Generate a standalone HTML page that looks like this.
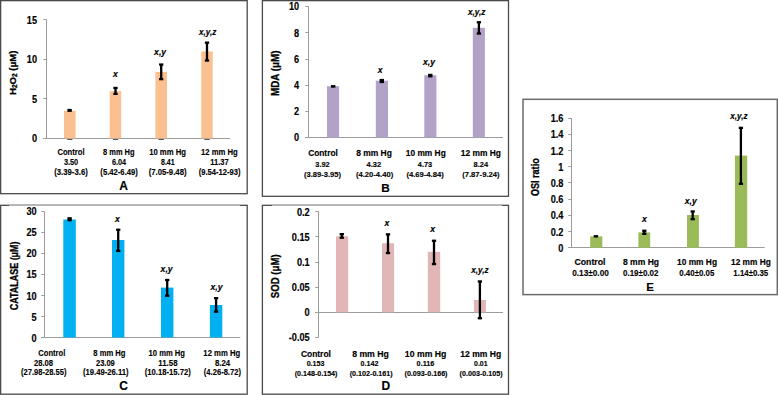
<!DOCTYPE html>
<html><head><meta charset="utf-8"><style>
html,body{margin:0;padding:0;background:#fff;}
body{width:778px;height:395px;overflow:hidden;}
svg{display:block;}
text{font-family:"Liberation Sans", sans-serif;font-weight:bold;stroke:#000;stroke-width:0.16px;}
</style></head><body>
<svg width="778" height="395" viewBox="0 0 778 395">
<rect width="778" height="395" fill="#fff"/>
<rect x="0.65" y="0.65" width="246.55" height="193.05" fill="none" stroke="#4a4a4a" stroke-width="1.3"/>
<rect x="262.40" y="0.65" width="246.10" height="195.65" fill="none" stroke="#4a4a4a" stroke-width="1.3"/>
<rect x="0.65" y="205.30" width="246.55" height="188.90" fill="none" stroke="#4a4a4a" stroke-width="1.3"/>
<rect x="262.40" y="205.30" width="246.10" height="188.90" fill="none" stroke="#4a4a4a" stroke-width="1.3"/>
<line x1="9.00" y1="205.30" x2="240.00" y2="205.30" stroke="#b4b4b4" stroke-width="1.5"/>
<line x1="272.00" y1="205.30" x2="502.00" y2="205.30" stroke="#b4b4b4" stroke-width="1.5"/>
<rect x="523.00" y="99.30" width="254.30" height="195.30" fill="none" stroke="#6a6a6a" stroke-width="1.5"/>
<line x1="46.50" y1="19.80" x2="46.50" y2="138.30" stroke="#9c9c9c" stroke-width="1"/>
<line x1="43.30" y1="138.50" x2="46.50" y2="138.50" stroke="#9c9c9c" stroke-width="1"/>
<text x="37.0" y="142.3" font-size="10.2" text-anchor="end" textLength="5.11" lengthAdjust="spacingAndGlyphs">0</text>
<line x1="43.30" y1="98.50" x2="46.50" y2="98.50" stroke="#9c9c9c" stroke-width="1"/>
<text x="37.0" y="102.8" font-size="10.2" text-anchor="end" textLength="5.11" lengthAdjust="spacingAndGlyphs">5</text>
<line x1="43.30" y1="59.50" x2="46.50" y2="59.50" stroke="#9c9c9c" stroke-width="1"/>
<text x="37.0" y="63.0" font-size="10.2" text-anchor="end" textLength="10.21" lengthAdjust="spacingAndGlyphs">10</text>
<line x1="43.30" y1="19.50" x2="46.50" y2="19.50" stroke="#9c9c9c" stroke-width="1"/>
<text x="37.0" y="23.8" font-size="10.2" text-anchor="end" textLength="10.21" lengthAdjust="spacingAndGlyphs">15</text>
<line x1="43.30" y1="138.50" x2="230.00" y2="138.50" stroke="#9c9c9c" stroke-width="1"/>
<rect x="64.00" y="110.80" width="11.60" height="27.60" fill="#FAC090"/>
<rect x="109.70" y="91.20" width="11.50" height="47.20" fill="#FAC090"/>
<rect x="155.40" y="72.00" width="11.60" height="66.40" fill="#FAC090"/>
<rect x="201.30" y="51.50" width="11.40" height="86.90" fill="#FAC090"/>
<rect x="67.40" y="108.90" width="4.40" height="3.00" fill="#000"/>
<line x1="115.50" y1="87.95" x2="115.50" y2="93.85" stroke="#000" stroke-width="2.3"/>
<line x1="113.35" y1="87.95" x2="117.65" y2="87.95" stroke="#000" stroke-width="2.3"/>
<line x1="113.35" y1="93.85" x2="117.65" y2="93.85" stroke="#000" stroke-width="2.3"/>
<line x1="161.20" y1="64.55" x2="161.20" y2="79.15" stroke="#000" stroke-width="2.3"/>
<line x1="159.05" y1="64.55" x2="163.35" y2="64.55" stroke="#000" stroke-width="2.3"/>
<line x1="159.05" y1="79.15" x2="163.35" y2="79.15" stroke="#000" stroke-width="2.3"/>
<line x1="207.00" y1="42.65" x2="207.00" y2="60.55" stroke="#000" stroke-width="2.3"/>
<line x1="204.85" y1="42.65" x2="209.15" y2="42.65" stroke="#000" stroke-width="2.3"/>
<line x1="204.85" y1="60.55" x2="209.15" y2="60.55" stroke="#000" stroke-width="2.3"/>
<text x="115.5" y="76.6" font-size="8.5" text-anchor="middle" style="font-style:italic;" fill="#000" textLength="4.8" lengthAdjust="spacingAndGlyphs">x</text>
<text x="160.1" y="55.2" font-size="8.5" text-anchor="middle" style="font-style:italic;" fill="#000" textLength="12.0" lengthAdjust="spacingAndGlyphs">x,y</text>
<text x="207.7" y="35.2" font-size="8.5" text-anchor="middle" style="font-style:italic;" fill="#000" textLength="17.4" lengthAdjust="spacingAndGlyphs">x,y,z</text>
<text x="71.0" y="155.0" font-size="8.4" text-anchor="middle" style="stroke-width:0.12px;" fill="#000" textLength="27.1" lengthAdjust="spacingAndGlyphs">Control</text>
<text x="118.8" y="155.0" font-size="8.4" text-anchor="middle" style="stroke-width:0.12px;" fill="#000" textLength="31.6" lengthAdjust="spacingAndGlyphs">8 mm Hg</text>
<text x="167.6" y="155.0" font-size="8.4" text-anchor="middle" style="stroke-width:0.12px;" fill="#000" textLength="36.9" lengthAdjust="spacingAndGlyphs">10 mm Hg</text>
<text x="219.4" y="155.0" font-size="8.4" text-anchor="middle" style="stroke-width:0.12px;" fill="#000" textLength="36.9" lengthAdjust="spacingAndGlyphs">12 mm Hg</text>
<text x="71.0" y="165.2" font-size="8.2" text-anchor="middle" style="stroke-width:0.12px;" fill="#000" textLength="14.2" lengthAdjust="spacingAndGlyphs">3.50</text>
<text x="119.0" y="165.2" font-size="8.2" text-anchor="middle" style="stroke-width:0.12px;" fill="#000" textLength="14.2" lengthAdjust="spacingAndGlyphs">6.04</text>
<text x="167.8" y="165.2" font-size="8.2" text-anchor="middle" style="stroke-width:0.12px;" fill="#000" textLength="13.6" lengthAdjust="spacingAndGlyphs">8.41</text>
<text x="219.4" y="165.2" font-size="8.2" text-anchor="middle" style="stroke-width:0.12px;" fill="#000" textLength="18.5" lengthAdjust="spacingAndGlyphs">11.37</text>
<text x="71.0" y="175.2" font-size="8.2" text-anchor="middle" style="stroke-width:0.12px;" fill="#000" textLength="33.5" lengthAdjust="spacingAndGlyphs">(3.39-3.6)</text>
<text x="119.1" y="175.2" font-size="8.2" text-anchor="middle" style="stroke-width:0.12px;" fill="#000" textLength="37.5" lengthAdjust="spacingAndGlyphs">(5.42-6.49)</text>
<text x="167.6" y="175.2" font-size="8.2" text-anchor="middle" style="stroke-width:0.12px;" fill="#000" textLength="37.9" lengthAdjust="spacingAndGlyphs">(7.05-9.48)</text>
<text x="219.6" y="175.2" font-size="8.2" text-anchor="middle" style="stroke-width:0.12px;" fill="#000" textLength="41.9" lengthAdjust="spacingAndGlyphs">(9.54-12-93)</text>
<text transform="translate(16.3,72.8) rotate(-90)" x="0" y="0" font-size="9.6" style="stroke-width:0.3px" text-anchor="middle" textLength="44.4" lengthAdjust="spacingAndGlyphs">H<tspan font-size="6.5" dy="0.9">2</tspan><tspan dy="-0.9">O</tspan><tspan font-size="6.5" dy="0.9">2</tspan><tspan dy="-0.9"> (μM)</tspan></text>
<text x="123.5" y="189.9" font-size="12" text-anchor="middle" style="" fill="#000">A</text>
<rect x="67.20" y="139.00" width="5.20" height="1.00" fill="#555"/>
<rect x="112.90" y="139.00" width="5.20" height="1.00" fill="#555"/>
<rect x="158.60" y="139.00" width="5.20" height="1.00" fill="#555"/>
<rect x="204.40" y="139.00" width="5.20" height="1.00" fill="#555"/>
<line x1="308.50" y1="6.30" x2="308.50" y2="137.30" stroke="#9c9c9c" stroke-width="1"/>
<line x1="305.30" y1="137.50" x2="308.50" y2="137.50" stroke="#9c9c9c" stroke-width="1"/>
<text x="299.2" y="141.3" font-size="10.2" text-anchor="end" textLength="5.11" lengthAdjust="spacingAndGlyphs">0</text>
<line x1="305.30" y1="111.50" x2="308.50" y2="111.50" stroke="#9c9c9c" stroke-width="1"/>
<text x="299.2" y="115.0" font-size="10.2" text-anchor="end" textLength="5.11" lengthAdjust="spacingAndGlyphs">2</text>
<line x1="305.30" y1="85.50" x2="308.50" y2="85.50" stroke="#9c9c9c" stroke-width="1"/>
<text x="299.2" y="89.2" font-size="10.2" text-anchor="end" textLength="5.11" lengthAdjust="spacingAndGlyphs">4</text>
<line x1="305.30" y1="59.50" x2="308.50" y2="59.50" stroke="#9c9c9c" stroke-width="1"/>
<text x="299.2" y="63.0" font-size="10.2" text-anchor="end" textLength="5.11" lengthAdjust="spacingAndGlyphs">6</text>
<line x1="305.30" y1="32.50" x2="308.50" y2="32.50" stroke="#9c9c9c" stroke-width="1"/>
<text x="299.2" y="36.9" font-size="10.2" text-anchor="end" textLength="5.11" lengthAdjust="spacingAndGlyphs">8</text>
<line x1="305.30" y1="6.50" x2="308.50" y2="6.50" stroke="#9c9c9c" stroke-width="1"/>
<text x="299.2" y="10.3" font-size="10.2" text-anchor="end" textLength="10.21" lengthAdjust="spacingAndGlyphs">10</text>
<line x1="305.30" y1="137.50" x2="503.00" y2="137.50" stroke="#9c9c9c" stroke-width="1"/>
<rect x="327.00" y="86.20" width="12.10" height="51.30" fill="#B3A2C7"/>
<rect x="375.80" y="80.70" width="12.20" height="56.80" fill="#B3A2C7"/>
<rect x="424.30" y="75.20" width="12.10" height="62.30" fill="#B3A2C7"/>
<rect x="472.80" y="27.80" width="12.10" height="109.70" fill="#B3A2C7"/>
<rect x="331.00" y="85.10" width="4.40" height="2.60" fill="#000"/>
<rect x="379.60" y="78.90" width="4.40" height="4.20" fill="#000"/>
<rect x="428.10" y="73.80" width="4.40" height="3.60" fill="#000"/>
<line x1="478.90" y1="22.25" x2="478.90" y2="33.55" stroke="#000" stroke-width="2.3"/>
<line x1="476.75" y1="22.25" x2="481.05" y2="22.25" stroke="#000" stroke-width="2.3"/>
<line x1="476.75" y1="33.55" x2="481.05" y2="33.55" stroke="#000" stroke-width="2.3"/>
<text x="380.2" y="72.6" font-size="8.5" text-anchor="middle" style="font-style:italic;" fill="#000" textLength="4.8" lengthAdjust="spacingAndGlyphs">x</text>
<text x="429.0" y="65.3" font-size="8.5" text-anchor="middle" style="font-style:italic;" fill="#000" textLength="12.0" lengthAdjust="spacingAndGlyphs">x,y</text>
<text x="476.6" y="15.4" font-size="8.5" text-anchor="middle" style="font-style:italic;" fill="#000" textLength="17.4" lengthAdjust="spacingAndGlyphs">x,y,z</text>
<text x="323.0" y="155.7" font-size="8.6" text-anchor="middle" style="" fill="#000" textLength="29.7" lengthAdjust="spacingAndGlyphs">Control</text>
<text x="374.0" y="155.7" font-size="8.6" text-anchor="middle" style="" fill="#000" textLength="35.7" lengthAdjust="spacingAndGlyphs">8 mm Hg</text>
<text x="425.8" y="155.7" font-size="8.6" text-anchor="middle" style="" fill="#000" textLength="39.9" lengthAdjust="spacingAndGlyphs">10 mm Hg</text>
<text x="480.9" y="155.7" font-size="8.6" text-anchor="middle" style="" fill="#000" textLength="40.1" lengthAdjust="spacingAndGlyphs">12 mm Hg</text>
<text x="322.5" y="167.4" font-size="7.6" text-anchor="middle" style="stroke-width:0.12px;" fill="#000" textLength="14.3" lengthAdjust="spacingAndGlyphs">3.92</text>
<text x="373.8" y="167.4" font-size="7.6" text-anchor="middle" style="stroke-width:0.12px;" fill="#000" textLength="14.5" lengthAdjust="spacingAndGlyphs">4.32</text>
<text x="425.0" y="167.4" font-size="7.6" text-anchor="middle" style="stroke-width:0.12px;" fill="#000" textLength="14.3" lengthAdjust="spacingAndGlyphs">4.73</text>
<text x="480.8" y="167.4" font-size="7.6" text-anchor="middle" style="stroke-width:0.12px;" fill="#000" textLength="14.5" lengthAdjust="spacingAndGlyphs">8.24</text>
<text x="322.5" y="177.0" font-size="7.6" text-anchor="middle" style="stroke-width:0.12px;" fill="#000" textLength="37.0" lengthAdjust="spacingAndGlyphs">(3.89-3.95)</text>
<text x="374.6" y="177.0" font-size="7.6" text-anchor="middle" style="stroke-width:0.12px;" fill="#000" textLength="37.3" lengthAdjust="spacingAndGlyphs">(4.20-4.40)</text>
<text x="425.1" y="177.0" font-size="7.6" text-anchor="middle" style="stroke-width:0.12px;" fill="#000" textLength="37.4" lengthAdjust="spacingAndGlyphs">(4.69-4.84)</text>
<text x="480.9" y="177.0" font-size="7.6" text-anchor="middle" style="stroke-width:0.12px;" fill="#000" textLength="37.4" lengthAdjust="spacingAndGlyphs">(7.87-9.24)</text>
<text transform="translate(279.2,73.3) rotate(-90)" x="0" y="0" font-size="10.8" style="stroke-width:0.3px" text-anchor="middle" textLength="45.4" lengthAdjust="spacingAndGlyphs">MDA (μM)</text>
<text x="385.5" y="192.0" font-size="11.8" text-anchor="middle" style="" fill="#000">B</text>
<line x1="44.50" y1="211.40" x2="44.50" y2="337.60" stroke="#9c9c9c" stroke-width="1"/>
<line x1="41.30" y1="337.50" x2="44.50" y2="337.50" stroke="#9c9c9c" stroke-width="1"/>
<text x="36.6" y="341.6" font-size="10.2" text-anchor="end" textLength="5.11" lengthAdjust="spacingAndGlyphs">0</text>
<line x1="41.30" y1="316.50" x2="44.50" y2="316.50" stroke="#9c9c9c" stroke-width="1"/>
<text x="36.6" y="320.6" font-size="10.2" text-anchor="end" textLength="5.11" lengthAdjust="spacingAndGlyphs">5</text>
<line x1="41.30" y1="295.50" x2="44.50" y2="295.50" stroke="#9c9c9c" stroke-width="1"/>
<text x="36.6" y="299.5" font-size="10.2" text-anchor="end" textLength="10.21" lengthAdjust="spacingAndGlyphs">10</text>
<line x1="41.30" y1="274.50" x2="44.50" y2="274.50" stroke="#9c9c9c" stroke-width="1"/>
<text x="36.6" y="278.4" font-size="10.2" text-anchor="end" textLength="10.21" lengthAdjust="spacingAndGlyphs">15</text>
<line x1="41.30" y1="253.50" x2="44.50" y2="253.50" stroke="#9c9c9c" stroke-width="1"/>
<text x="36.6" y="257.4" font-size="10.2" text-anchor="end" textLength="10.21" lengthAdjust="spacingAndGlyphs">20</text>
<line x1="41.30" y1="232.50" x2="44.50" y2="232.50" stroke="#9c9c9c" stroke-width="1"/>
<text x="36.6" y="236.4" font-size="10.2" text-anchor="end" textLength="10.21" lengthAdjust="spacingAndGlyphs">25</text>
<line x1="41.30" y1="211.50" x2="44.50" y2="211.50" stroke="#9c9c9c" stroke-width="1"/>
<text x="36.6" y="215.4" font-size="10.2" text-anchor="end" textLength="10.21" lengthAdjust="spacingAndGlyphs">30</text>
<line x1="41.30" y1="337.50" x2="240.30" y2="337.50" stroke="#9c9c9c" stroke-width="1"/>
<rect x="63.30" y="219.50" width="12.50" height="118.00" fill="#00B0F0"/>
<rect x="112.00" y="240.00" width="12.40" height="97.50" fill="#00B0F0"/>
<rect x="161.00" y="287.60" width="12.40" height="49.90" fill="#00B0F0"/>
<rect x="209.90" y="305.00" width="12.40" height="32.50" fill="#00B0F0"/>
<rect x="67.40" y="217.20" width="4.40" height="4.10" fill="#000"/>
<line x1="118.20" y1="229.75" x2="118.20" y2="250.95" stroke="#000" stroke-width="2.3"/>
<line x1="116.05" y1="229.75" x2="120.35" y2="229.75" stroke="#000" stroke-width="2.3"/>
<line x1="116.05" y1="250.95" x2="120.35" y2="250.95" stroke="#000" stroke-width="2.3"/>
<line x1="167.20" y1="279.95" x2="167.20" y2="295.75" stroke="#000" stroke-width="2.3"/>
<line x1="165.05" y1="279.95" x2="169.35" y2="279.95" stroke="#000" stroke-width="2.3"/>
<line x1="165.05" y1="295.75" x2="169.35" y2="295.75" stroke="#000" stroke-width="2.3"/>
<line x1="216.10" y1="298.15" x2="216.10" y2="311.65" stroke="#000" stroke-width="2.3"/>
<line x1="213.95" y1="298.15" x2="218.25" y2="298.15" stroke="#000" stroke-width="2.3"/>
<line x1="213.95" y1="311.65" x2="218.25" y2="311.65" stroke="#000" stroke-width="2.3"/>
<text x="117.3" y="221.7" font-size="8.5" text-anchor="middle" style="font-style:italic;" fill="#000" textLength="4.8" lengthAdjust="spacingAndGlyphs">x</text>
<text x="166.6" y="272.1" font-size="8.5" text-anchor="middle" style="font-style:italic;" fill="#000" textLength="12.0" lengthAdjust="spacingAndGlyphs">x,y</text>
<text x="216.5" y="290.1" font-size="8.5" text-anchor="middle" style="font-style:italic;" fill="#000" textLength="12.0" lengthAdjust="spacingAndGlyphs">x,y</text>
<text x="51.8" y="355.5" font-size="8.2" text-anchor="middle" style="stroke-width:0.12px;" fill="#000" textLength="26.9" lengthAdjust="spacingAndGlyphs">Control</text>
<text x="109.4" y="355.5" font-size="8.2" text-anchor="middle" style="stroke-width:0.12px;" fill="#000" textLength="32.2" lengthAdjust="spacingAndGlyphs">8 mm Hg</text>
<text x="166.8" y="355.5" font-size="8.2" text-anchor="middle" style="stroke-width:0.12px;" fill="#000" textLength="36.4" lengthAdjust="spacingAndGlyphs">10 mm Hg</text>
<text x="221.8" y="355.5" font-size="8.2" text-anchor="middle" style="stroke-width:0.12px;" fill="#000" textLength="36.9" lengthAdjust="spacingAndGlyphs">12 mm Hg</text>
<text x="43.5" y="365.7" font-size="8.4" text-anchor="middle" style="stroke-width:0.12px;" fill="#000" textLength="19.2" lengthAdjust="spacingAndGlyphs">28.08</text>
<text x="105.4" y="365.7" font-size="8.4" text-anchor="middle" style="stroke-width:0.12px;" fill="#000" textLength="18.8" lengthAdjust="spacingAndGlyphs">23.09</text>
<text x="167.9" y="365.7" font-size="8.4" text-anchor="middle" style="stroke-width:0.12px;" fill="#000" textLength="19.2" lengthAdjust="spacingAndGlyphs">11.58</text>
<text x="222.6" y="365.7" font-size="8.4" text-anchor="middle" style="stroke-width:0.12px;" fill="#000" textLength="15.3" lengthAdjust="spacingAndGlyphs">8.24</text>
<text x="43.7" y="375.4" font-size="8.4" text-anchor="middle" style="stroke-width:0.12px;" fill="#000" textLength="45.5" lengthAdjust="spacingAndGlyphs">(27.98-28.55)</text>
<text x="105.8" y="375.4" font-size="8.4" text-anchor="middle" style="stroke-width:0.12px;" fill="#000" textLength="45.5" lengthAdjust="spacingAndGlyphs">(19.49-26.11)</text>
<text x="167.8" y="375.4" font-size="8.4" text-anchor="middle" style="stroke-width:0.12px;" fill="#000" textLength="46.2" lengthAdjust="spacingAndGlyphs">(10.18-15.72)</text>
<text x="222.4" y="375.4" font-size="8.4" text-anchor="middle" style="stroke-width:0.12px;" fill="#000" textLength="37.1" lengthAdjust="spacingAndGlyphs">(4.26-8.72)</text>
<text transform="translate(17.7,275.9) rotate(-90)" x="0" y="0" font-size="10.8" style="stroke-width:0.3px" text-anchor="middle" textLength="68.9" lengthAdjust="spacingAndGlyphs">CATALASE (μM)</text>
<text x="123.5" y="390.3" font-size="12" text-anchor="middle" style="" fill="#000">C</text>
<line x1="318.50" y1="211.60" x2="318.50" y2="337.10" stroke="#9c9c9c" stroke-width="1"/>
<line x1="315.30" y1="337.50" x2="318.50" y2="337.50" stroke="#9c9c9c" stroke-width="1"/>
<text x="309.7" y="341.1" font-size="10.2" text-anchor="end" textLength="20.92" lengthAdjust="spacingAndGlyphs">-0.05</text>
<line x1="315.30" y1="312.50" x2="318.50" y2="312.50" stroke="#9c9c9c" stroke-width="1"/>
<text x="309.7" y="316.3" font-size="10.2" text-anchor="end" textLength="5.11" lengthAdjust="spacingAndGlyphs">0</text>
<line x1="315.30" y1="287.50" x2="318.50" y2="287.50" stroke="#9c9c9c" stroke-width="1"/>
<text x="309.7" y="291.3" font-size="10.2" text-anchor="end" textLength="17.87" lengthAdjust="spacingAndGlyphs">0.05</text>
<line x1="315.30" y1="262.50" x2="318.50" y2="262.50" stroke="#9c9c9c" stroke-width="1"/>
<text x="309.7" y="266.0" font-size="10.2" text-anchor="end" textLength="12.76" lengthAdjust="spacingAndGlyphs">0.1</text>
<line x1="315.30" y1="236.50" x2="318.50" y2="236.50" stroke="#9c9c9c" stroke-width="1"/>
<text x="309.7" y="240.9" font-size="10.2" text-anchor="end" textLength="17.87" lengthAdjust="spacingAndGlyphs">0.15</text>
<line x1="315.30" y1="211.50" x2="318.50" y2="211.50" stroke="#9c9c9c" stroke-width="1"/>
<text x="309.7" y="215.6" font-size="10.2" text-anchor="end" textLength="12.76" lengthAdjust="spacingAndGlyphs">0.2</text>
<line x1="315.30" y1="312.50" x2="503.00" y2="312.50" stroke="#9c9c9c" stroke-width="1"/>
<rect x="336.00" y="236.30" width="12.20" height="76.00" fill="#E2B6B5"/>
<rect x="382.00" y="243.30" width="12.10" height="69.00" fill="#E2B6B5"/>
<rect x="427.80" y="251.80" width="12.40" height="60.50" fill="#E2B6B5"/>
<rect x="473.90" y="300.00" width="12.00" height="12.30" fill="#E2B6B5"/>
<line x1="341.80" y1="234.15" x2="341.80" y2="237.75" stroke="#000" stroke-width="2.3"/>
<line x1="339.65" y1="234.15" x2="343.95" y2="234.15" stroke="#000" stroke-width="2.3"/>
<line x1="339.65" y1="237.75" x2="343.95" y2="237.75" stroke="#000" stroke-width="2.3"/>
<line x1="388.00" y1="234.35" x2="388.00" y2="253.05" stroke="#000" stroke-width="2.3"/>
<line x1="385.85" y1="234.35" x2="390.15" y2="234.35" stroke="#000" stroke-width="2.3"/>
<line x1="385.85" y1="253.05" x2="390.15" y2="253.05" stroke="#000" stroke-width="2.3"/>
<line x1="434.00" y1="240.75" x2="434.00" y2="264.05" stroke="#000" stroke-width="2.3"/>
<line x1="431.85" y1="240.75" x2="436.15" y2="240.75" stroke="#000" stroke-width="2.3"/>
<line x1="431.85" y1="264.05" x2="436.15" y2="264.05" stroke="#000" stroke-width="2.3"/>
<line x1="479.90" y1="281.45" x2="479.90" y2="318.25" stroke="#000" stroke-width="2.3"/>
<line x1="477.75" y1="281.45" x2="482.05" y2="281.45" stroke="#000" stroke-width="2.3"/>
<line x1="477.75" y1="318.25" x2="482.05" y2="318.25" stroke="#000" stroke-width="2.3"/>
<text x="387.0" y="225.6" font-size="8.5" text-anchor="middle" style="font-style:italic;" fill="#000" textLength="4.8" lengthAdjust="spacingAndGlyphs">x</text>
<text x="432.7" y="232.0" font-size="8.5" text-anchor="middle" style="font-style:italic;" fill="#000" textLength="4.8" lengthAdjust="spacingAndGlyphs">x</text>
<text x="479.9" y="272.8" font-size="8.5" text-anchor="middle" style="font-style:italic;" fill="#000" textLength="17.4" lengthAdjust="spacingAndGlyphs">x,y,z</text>
<text x="315.9" y="356.5" font-size="8.6" text-anchor="middle" style="" fill="#000" textLength="30.0" lengthAdjust="spacingAndGlyphs">Control</text>
<text x="370.5" y="356.5" font-size="8.6" text-anchor="middle" style="" fill="#000" textLength="36.7" lengthAdjust="spacingAndGlyphs">8 mm Hg</text>
<text x="425.6" y="356.5" font-size="8.6" text-anchor="middle" style="" fill="#000" textLength="41.5" lengthAdjust="spacingAndGlyphs">10 mm Hg</text>
<text x="480.7" y="356.5" font-size="8.6" text-anchor="middle" style="" fill="#000" textLength="40.8" lengthAdjust="spacingAndGlyphs">12 mm Hg</text>
<text x="315.6" y="365.9" font-size="6.8" text-anchor="middle" style="stroke-width:0.12px;" fill="#000" textLength="17.9" lengthAdjust="spacingAndGlyphs">0.153</text>
<text x="369.5" y="365.9" font-size="6.8" text-anchor="middle" style="stroke-width:0.12px;" fill="#000" textLength="17.8" lengthAdjust="spacingAndGlyphs">0.142</text>
<text x="425.5" y="365.9" font-size="6.8" text-anchor="middle" style="stroke-width:0.12px;" fill="#000" textLength="17.8" lengthAdjust="spacingAndGlyphs">0.116</text>
<text x="480.8" y="365.9" font-size="6.8" text-anchor="middle" style="stroke-width:0.12px;" fill="#000" textLength="13.5" lengthAdjust="spacingAndGlyphs">0.01</text>
<text x="316.1" y="375.7" font-size="6.8" text-anchor="middle" style="stroke-width:0.12px;" fill="#000" textLength="42.7" lengthAdjust="spacingAndGlyphs">(0.148-0.154)</text>
<text x="371.2" y="375.7" font-size="6.8" text-anchor="middle" style="stroke-width:0.12px;" fill="#000" textLength="43.0" lengthAdjust="spacingAndGlyphs">(0.102-0.161)</text>
<text x="426.0" y="375.7" font-size="6.8" text-anchor="middle" style="stroke-width:0.12px;" fill="#000" textLength="43.0" lengthAdjust="spacingAndGlyphs">(0.093-0.166)</text>
<text x="481.1" y="375.7" font-size="6.8" text-anchor="middle" style="stroke-width:0.12px;" fill="#000" textLength="43.1" lengthAdjust="spacingAndGlyphs">(0.003-0.105)</text>
<text transform="translate(278.9,276.3) rotate(-90)" x="0" y="0" font-size="10.8" style="stroke-width:0.3px" text-anchor="middle" textLength="43.8" lengthAdjust="spacingAndGlyphs">SOD (μM)</text>
<text x="385.8" y="390.4" font-size="12" text-anchor="middle" style="" fill="#000">D</text>
<line x1="571.50" y1="118.20" x2="571.50" y2="247.80" stroke="#9c9c9c" stroke-width="1"/>
<line x1="568.30" y1="247.50" x2="571.50" y2="247.50" stroke="#9c9c9c" stroke-width="1"/>
<text x="563.4" y="251.8" font-size="10.2" text-anchor="end" textLength="5.11" lengthAdjust="spacingAndGlyphs">0</text>
<line x1="568.30" y1="231.50" x2="571.50" y2="231.50" stroke="#9c9c9c" stroke-width="1"/>
<text x="563.4" y="235.5" font-size="10.2" text-anchor="end" textLength="12.76" lengthAdjust="spacingAndGlyphs">0.2</text>
<line x1="568.30" y1="215.50" x2="571.50" y2="215.50" stroke="#9c9c9c" stroke-width="1"/>
<text x="563.4" y="219.4" font-size="10.2" text-anchor="end" textLength="12.76" lengthAdjust="spacingAndGlyphs">0.4</text>
<line x1="568.30" y1="199.50" x2="571.50" y2="199.50" stroke="#9c9c9c" stroke-width="1"/>
<text x="563.4" y="203.0" font-size="10.2" text-anchor="end" textLength="12.76" lengthAdjust="spacingAndGlyphs">0.6</text>
<line x1="568.30" y1="182.50" x2="571.50" y2="182.50" stroke="#9c9c9c" stroke-width="1"/>
<text x="563.4" y="186.7" font-size="10.2" text-anchor="end" textLength="12.76" lengthAdjust="spacingAndGlyphs">0.8</text>
<line x1="568.30" y1="166.50" x2="571.50" y2="166.50" stroke="#9c9c9c" stroke-width="1"/>
<text x="563.4" y="170.7" font-size="10.2" text-anchor="end" textLength="5.11" lengthAdjust="spacingAndGlyphs">1</text>
<line x1="568.30" y1="150.50" x2="571.50" y2="150.50" stroke="#9c9c9c" stroke-width="1"/>
<text x="563.4" y="154.6" font-size="10.2" text-anchor="end" textLength="12.76" lengthAdjust="spacingAndGlyphs">1.2</text>
<line x1="568.30" y1="134.50" x2="571.50" y2="134.50" stroke="#9c9c9c" stroke-width="1"/>
<text x="563.4" y="138.3" font-size="10.2" text-anchor="end" textLength="12.76" lengthAdjust="spacingAndGlyphs">1.4</text>
<line x1="568.30" y1="118.50" x2="571.50" y2="118.50" stroke="#9c9c9c" stroke-width="1"/>
<text x="563.4" y="122.2" font-size="10.2" text-anchor="end" textLength="12.76" lengthAdjust="spacingAndGlyphs">1.6</text>
<line x1="568.30" y1="247.50" x2="764.60" y2="247.50" stroke="#9c9c9c" stroke-width="1"/>
<rect x="590.20" y="236.40" width="12.10" height="11.30" fill="#9BBB59"/>
<rect x="638.40" y="232.40" width="11.80" height="15.30" fill="#9BBB59"/>
<rect x="687.00" y="215.00" width="11.90" height="32.70" fill="#9BBB59"/>
<rect x="734.90" y="155.60" width="12.30" height="92.10" fill="#9BBB59"/>
<rect x="593.70" y="235.10" width="4.40" height="2.40" fill="#000"/>
<line x1="644.30" y1="230.75" x2="644.30" y2="233.85" stroke="#000" stroke-width="2.3"/>
<line x1="642.15" y1="230.75" x2="646.45" y2="230.75" stroke="#000" stroke-width="2.3"/>
<line x1="642.15" y1="233.85" x2="646.45" y2="233.85" stroke="#000" stroke-width="2.3"/>
<line x1="692.70" y1="211.45" x2="692.70" y2="219.15" stroke="#000" stroke-width="2.3"/>
<line x1="690.55" y1="211.45" x2="694.85" y2="211.45" stroke="#000" stroke-width="2.3"/>
<line x1="690.55" y1="219.15" x2="694.85" y2="219.15" stroke="#000" stroke-width="2.3"/>
<line x1="740.90" y1="127.85" x2="740.90" y2="183.85" stroke="#000" stroke-width="2.3"/>
<line x1="738.75" y1="127.85" x2="743.05" y2="127.85" stroke="#000" stroke-width="2.3"/>
<line x1="738.75" y1="183.85" x2="743.05" y2="183.85" stroke="#000" stroke-width="2.3"/>
<text x="644.3" y="222.2" font-size="8.5" text-anchor="middle" style="font-style:italic;" fill="#000" textLength="4.8" lengthAdjust="spacingAndGlyphs">x</text>
<text x="690.8" y="203.5" font-size="8.5" text-anchor="middle" style="font-style:italic;" fill="#000" textLength="12.0" lengthAdjust="spacingAndGlyphs">x,y</text>
<text x="739.0" y="119.2" font-size="8.5" text-anchor="middle" style="font-style:italic;" fill="#000" textLength="17.4" lengthAdjust="spacingAndGlyphs">x,y,z</text>
<text x="590.0" y="264.8" font-size="8.6" text-anchor="middle" style="" fill="#000" textLength="31.1" lengthAdjust="spacingAndGlyphs">Control</text>
<text x="641.0" y="264.8" font-size="8.6" text-anchor="middle" style="" fill="#000" textLength="36.0" lengthAdjust="spacingAndGlyphs">8 mm Hg</text>
<text x="697.0" y="264.8" font-size="8.6" text-anchor="middle" style="" fill="#000" textLength="40.0" lengthAdjust="spacingAndGlyphs">10 mm Hg</text>
<text x="750.9" y="264.8" font-size="8.6" text-anchor="middle" style="" fill="#000" textLength="39.7" lengthAdjust="spacingAndGlyphs">12 mm Hg</text>
<text x="590.5" y="276.1" font-size="8.4" text-anchor="middle" style="stroke-width:0.12px;" fill="#000" textLength="36.7" lengthAdjust="spacingAndGlyphs">0.13±0.00</text>
<text x="640.7" y="276.1" font-size="8.4" text-anchor="middle" style="stroke-width:0.12px;" fill="#000" textLength="35.4" lengthAdjust="spacingAndGlyphs">0.19±0.02</text>
<text x="696.8" y="276.1" font-size="8.4" text-anchor="middle" style="stroke-width:0.12px;" fill="#000" textLength="35.1" lengthAdjust="spacingAndGlyphs">0.40±0.05</text>
<text x="750.8" y="276.1" font-size="8.4" text-anchor="middle" style="stroke-width:0.12px;" fill="#000" textLength="34.9" lengthAdjust="spacingAndGlyphs">1.14±0.35</text>
<text transform="translate(539.3,177.2) rotate(-90)" x="0" y="0" font-size="10.8" style="stroke-width:0.3px" text-anchor="middle" textLength="37.8" lengthAdjust="spacingAndGlyphs">OSI ratio</text>
<text x="650.2" y="290.5" font-size="11.5" text-anchor="middle" style="" fill="#000">E</text>
</svg>
</body></html>
